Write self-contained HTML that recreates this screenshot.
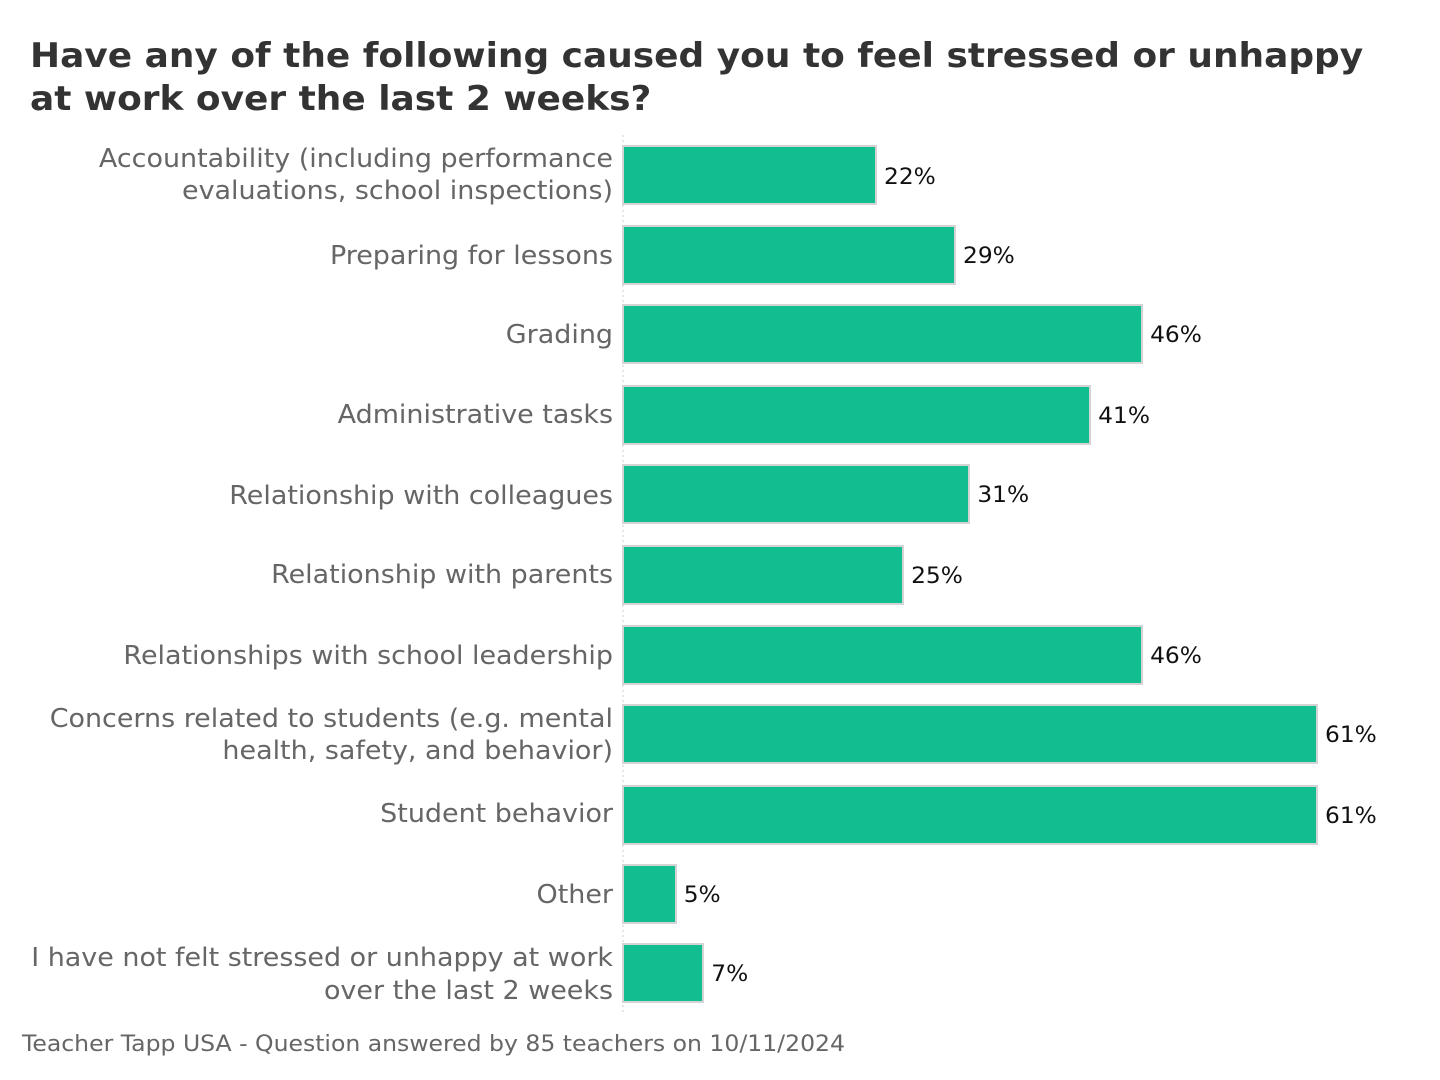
<!DOCTYPE html>
<html><head><meta charset="utf-8"><style>
html,body{margin:0;padding:0;background:#fff;}
svg{display:block;font-family:"DejaVu Sans","Liberation Sans",sans-serif;}
.l{fill:#666;font-size:25.5px;text-anchor:end;}
.v{fill:#111;font-size:22px;}
.b{fill:#12be8f;stroke:#d4d4d4;stroke-width:2;}
</style></head><body>
<svg width="1440" height="1080" viewBox="0 0 1440 1080">
<g transform="translate(30,0) scale(1.057,1)">
<text x="0" y="67" font-size="34" font-weight="bold" fill="#333">Have any of the following caused you to feel stressed or unhappy</text>
<text x="0" y="110" font-size="34" font-weight="bold" fill="#333">at work over the last 2 weeks?</text>
</g>
<line x1="623" y1="135" x2="623" y2="1012" stroke="#ccc" stroke-dasharray="2,3"/>
<rect class="b" x="623" y="146" width="253" height="58"/>
<rect class="b" x="623" y="226" width="332" height="58"/>
<rect class="b" x="623" y="305" width="519" height="58"/>
<rect class="b" x="623" y="386" width="467" height="58"/>
<rect class="b" x="623" y="465" width="346" height="58"/>
<rect class="b" x="623" y="546" width="280" height="58"/>
<rect class="b" x="623" y="626" width="519" height="58"/>
<rect class="b" x="623" y="705" width="694" height="58"/>
<rect class="b" x="623" y="786" width="694" height="58"/>
<rect class="b" x="623" y="865" width="53" height="58"/>
<rect class="b" x="623" y="944" width="80" height="58"/>
<g transform="scale(1.06,1)">
<text class="v" x="834" y="184">22%</text>
<text class="v" x="908.5" y="263">29%</text>
<text class="v" x="1085" y="342">46%</text>
<text class="v" x="1036" y="423">41%</text>
<text class="v" x="922" y="502">31%</text>
<text class="v" x="859.5" y="583">25%</text>
<text class="v" x="1085" y="663">46%</text>
<text class="v" x="1250" y="742">61%</text>
<text class="v" x="1250" y="823">61%</text>
<text class="v" x="645" y="902">5%</text>
<text class="v" x="671" y="981">7%</text>
</g>
<g transform="translate(613,0) scale(1.057,1)">
<text class="l" x="0" y="167">Accountability (including performance</text>
<text class="l" x="0" y="199">evaluations, school inspections)</text>
<text class="l" x="0" y="264">Preparing for lessons</text>
<text class="l" x="0" y="343">Grading</text>
<text class="l" x="0" y="423">Administrative tasks</text>
<text class="l" x="0" y="504">Relationship with colleagues</text>
<text class="l" x="0" y="583">Relationship with parents</text>
<text class="l" x="0" y="664">Relationships with school leadership</text>
<text class="l" x="0" y="727">Concerns related to students (e.g. mental</text>
<text class="l" x="0" y="759">health, safety, and behavior)</text>
<text class="l" x="0" y="822">Student behavior</text>
<text class="l" x="0" y="903">Other</text>
<text class="l" x="0" y="966">I have not felt stressed or unhappy at work</text>
<text class="l" x="0" y="999">over the last 2 weeks</text>
</g>
<g transform="translate(22,0) scale(1.07,1)">
<text x="0" y="1051" font-size="22" fill="#666">Teacher Tapp USA - Question answered by 85 teachers on 10/11/2024</text>
</g>
</svg>
</body></html>
